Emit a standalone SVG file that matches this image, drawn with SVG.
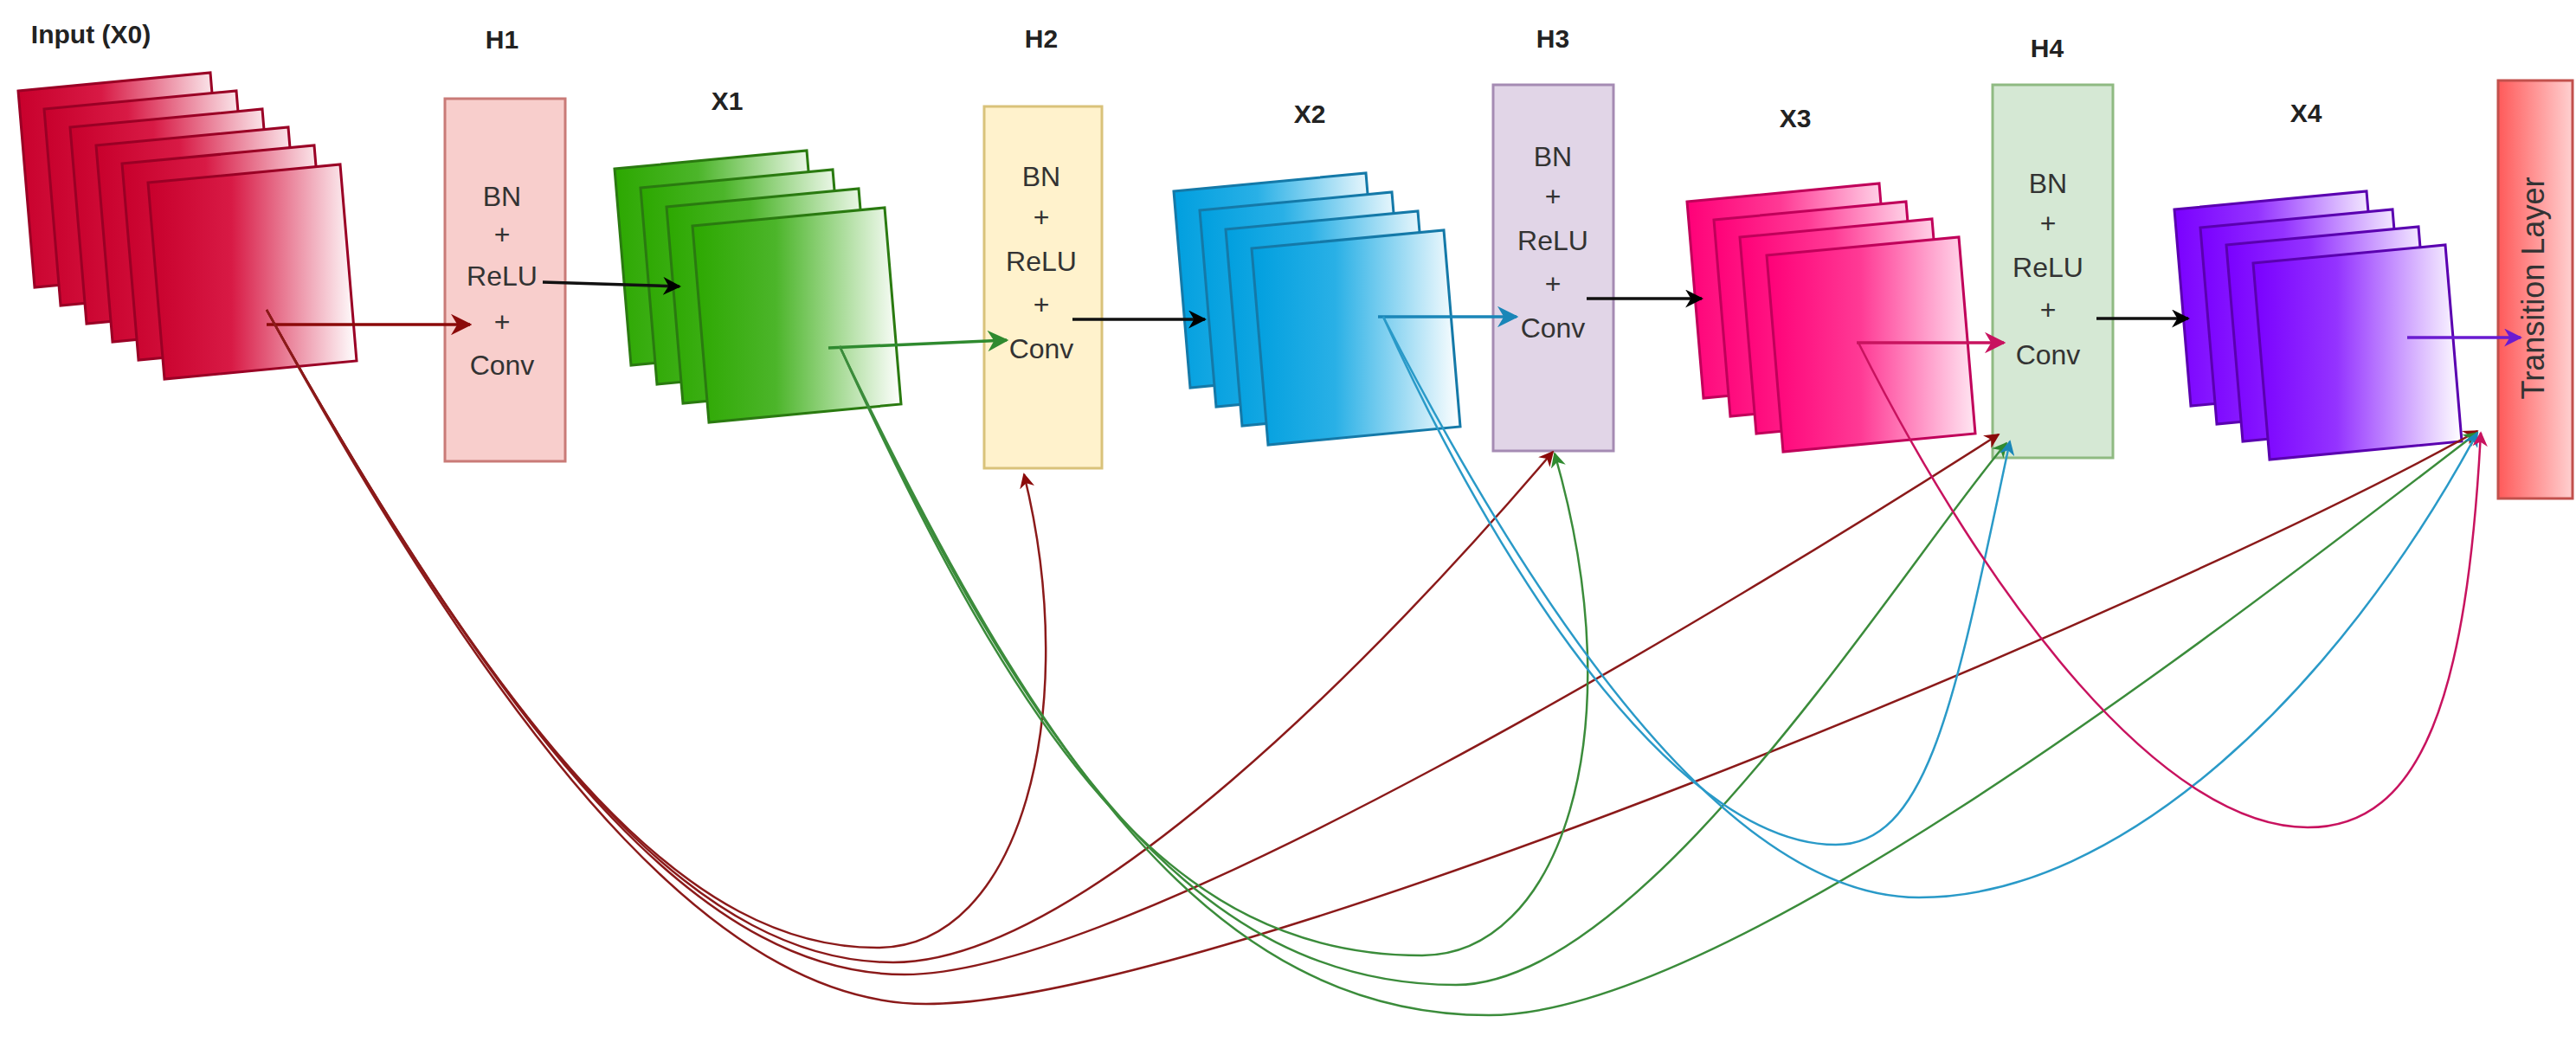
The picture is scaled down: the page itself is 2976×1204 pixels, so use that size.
<svg xmlns="http://www.w3.org/2000/svg" width="2976" height="1204" viewBox="0 0 2976 1204">
<style>
.lbl{font-family:"Liberation Sans",Arial,sans-serif;font-weight:bold;font-size:30px;fill:#222;text-anchor:middle}
.bt{font-family:"Liberation Sans",Arial,sans-serif;font-size:32px;fill:#333;text-anchor:middle}
.c{fill:none;stroke-width:2.5}
.a{fill:none;stroke-width:3.5}
</style>
<defs>
<linearGradient id="gR" x1="0" y1="0" x2="1" y2="0"><stop offset="0" stop-color="#c8002c"/><stop offset="0.4" stop-color="#d81a45"/><stop offset="1" stop-color="#ffffff"/></linearGradient>
<linearGradient id="gG" x1="0" y1="0" x2="1" y2="0"><stop offset="0" stop-color="#2ca800"/><stop offset="0.4" stop-color="#4cb52a"/><stop offset="1" stop-color="#ffffff"/></linearGradient>
<linearGradient id="gB" x1="0" y1="0" x2="1" y2="0"><stop offset="0" stop-color="#009fdf"/><stop offset="0.4" stop-color="#29b0e6"/><stop offset="1" stop-color="#ffffff"/></linearGradient>
<linearGradient id="gP" x1="0" y1="0" x2="1" y2="0"><stop offset="0" stop-color="#ff0078"/><stop offset="0.45" stop-color="#ff3a95"/><stop offset="1" stop-color="#ffe6f2"/></linearGradient>
<linearGradient id="gV" x1="0" y1="0" x2="1" y2="0"><stop offset="0" stop-color="#7a00ff"/><stop offset="0.4" stop-color="#9433ff"/><stop offset="1" stop-color="#ffffff"/></linearGradient>
<linearGradient id="gT" x1="0" y1="0" x2="1" y2="0"><stop offset="0" stop-color="#ff5a5a"/><stop offset="1" stop-color="#ffd0d0"/></linearGradient>
<polygon id="sh" points="0,0 222,-21 241,206 19,227"/>
<marker id="mK" viewBox="0 0 10 10" refX="9" refY="5" markerWidth="6" markerHeight="6" orient="auto"><path d="M0,0 L10,5 L0,10 L3,5 Z" fill="#000"/></marker>
<marker id="mR" viewBox="0 0 10 10" refX="9" refY="5" markerWidth="7" markerHeight="7" orient="auto"><path d="M0,0 L10,5 L0,10 L3,5 Z" fill="#8b0a0a"/></marker>
<marker id="mG" viewBox="0 0 10 10" refX="9" refY="5" markerWidth="7" markerHeight="7" orient="auto"><path d="M0,0 L10,5 L0,10 L3,5 Z" fill="#2f8a2f"/></marker>
<marker id="mB" viewBox="0 0 10 10" refX="9" refY="5" markerWidth="7" markerHeight="7" orient="auto"><path d="M0,0 L10,5 L0,10 L3,5 Z" fill="#1a86b8"/></marker>
<marker id="mP" viewBox="0 0 10 10" refX="9" refY="5" markerWidth="7" markerHeight="7" orient="auto"><path d="M0,0 L10,5 L0,10 L3,5 Z" fill="#c8135f"/></marker>
<marker id="mV" viewBox="0 0 10 10" refX="9" refY="5" markerWidth="6" markerHeight="6" orient="auto"><path d="M0,0 L10,5 L0,10 L3,5 Z" fill="#6a1bd1"/></marker>
</defs>
<rect width="2976" height="1204" fill="#fff"/>

<g id="X0">
<text class="lbl" x="105" y="50">Input (X0)</text>
<g fill="url(#gR)" stroke="#9a0025" stroke-width="3">
<use href="#sh" x="21" y="105"/><use href="#sh" x="51" y="126"/><use href="#sh" x="81" y="147"/><use href="#sh" x="111" y="168"/><use href="#sh" x="141" y="189"/><use href="#sh" x="171" y="211"/>
</g></g>

<g id="H1">
<text class="lbl" x="580" y="56">H1</text>
<rect x="514" y="114" width="139" height="419" fill="#f8cecc" stroke="#c97a77" stroke-width="3"/>
<text class="bt" x="580" y="238">BN</text><text class="bt" x="580" y="282">+</text><text class="bt" x="580" y="330">ReLU</text><text class="bt" x="580" y="383">+</text><text class="bt" x="580" y="433">Conv</text>
</g>

<g id="X1">
<text class="lbl" x="840" y="127">X1</text>
<g fill="url(#gG)" stroke="#2a7a10" stroke-width="3">
<use href="#sh" x="710" y="195"/><use href="#sh" x="740" y="217"/><use href="#sh" x="770" y="239"/><use href="#sh" x="800" y="261"/>
</g></g>

<g id="H2">
<text class="lbl" x="1203" y="55">H2</text>
<rect x="1137" y="123" width="136" height="418" fill="#fff2cc" stroke="#d9c27a" stroke-width="3"/>
<text class="bt" x="1203" y="215">BN</text><text class="bt" x="1203" y="262">+</text><text class="bt" x="1203" y="313">ReLU</text><text class="bt" x="1203" y="363">+</text><text class="bt" x="1203" y="414">Conv</text>
</g>

<g id="X2">
<text class="lbl" x="1513" y="142">X2</text>
<g fill="url(#gB)" stroke="#1479a8" stroke-width="3">
<use href="#sh" x="1356" y="221"/><use href="#sh" x="1386" y="243"/><use href="#sh" x="1416" y="265"/><use href="#sh" x="1446" y="287"/>
</g></g>

<g id="H3">
<text class="lbl" x="1794" y="55">H3</text>
<rect x="1725" y="98" width="139" height="423" fill="#e1d5e7" stroke="#a58bb3" stroke-width="3"/>
<text class="bt" x="1794" y="192">BN</text><text class="bt" x="1794" y="238">+</text><text class="bt" x="1794" y="289">ReLU</text><text class="bt" x="1794" y="339">+</text><text class="bt" x="1794" y="390">Conv</text>
</g>

<g id="X3">
<text class="lbl" x="2074" y="147">X3</text>
<g fill="url(#gP)" stroke="#c0005a" stroke-width="3">
<use href="#sh" x="1949" y="233"/><use href="#sh" x="1980" y="254"/><use href="#sh" x="2010" y="274"/><use href="#sh" x="2041" y="295"/>
</g></g>

<g id="H4">
<text class="lbl" x="2365" y="66">H4</text>
<rect x="2302" y="98" width="139" height="431" fill="#d5e8d4" stroke="#8fba82" stroke-width="3"/>
<text class="bt" x="2366" y="223">BN</text><text class="bt" x="2366" y="269">+</text><text class="bt" x="2366" y="320">ReLU</text><text class="bt" x="2366" y="369">+</text><text class="bt" x="2366" y="421">Conv</text>
</g>

<g id="X4">
<text class="lbl" x="2664" y="141">X4</text>
<g fill="url(#gV)" stroke="#5a00b0" stroke-width="3">
<use href="#sh" x="2512" y="242"/><use href="#sh" x="2542" y="263"/><use href="#sh" x="2572" y="283"/><use href="#sh" x="2603" y="304"/>
</g></g>

<g id="T">
<rect x="2886" y="93" width="86" height="483" fill="url(#gT)" stroke="#c2504c" stroke-width="3"/>
<text class="bt" x="0" y="0" transform="translate(2939,333) rotate(-90)" style="font-size:36px">Transition Layer</text>
</g>

<g id="connectors">
<line class="a" x1="308" y1="375" x2="543" y2="375" stroke="#8b0a0a" marker-end="url(#mR)"/>
<line class="a" x1="627" y1="326" x2="785" y2="331" stroke="#111" marker-end="url(#mK)"/>
<line class="a" x1="957" y1="402" x2="1163" y2="393" stroke="#2f8a2f" marker-end="url(#mG)"/>
<line class="a" x1="1239" y1="369" x2="1392" y2="369" stroke="#111" marker-end="url(#mK)"/>
<path class="a" d="M1592 366 L1752 366" stroke="#1a86b8" marker-end="url(#mB)"/>
<line class="a" x1="1833" y1="345" x2="1966" y2="345" stroke="#111" marker-end="url(#mK)"/>
<line class="a" x1="2145" y1="396" x2="2315" y2="396" stroke="#c8135f" marker-end="url(#mP)"/>
<line class="a" x1="2422" y1="368" x2="2528" y2="368" stroke="#111" marker-end="url(#mK)"/>
<line class="a" x1="2781" y1="390" x2="2912" y2="390" stroke="#6a1bd1" marker-end="url(#mV)"/>

<g stroke="#8b1a1a">
<path class="c" d="M308 358 C600 880 800 1095 1013 1095 C1180 1095 1250 820 1183 548" marker-end="url(#mR)"/>
<path class="c" d="M308 358 C605 890 815 1112 1032 1112 C1250 1112 1600 750 1794 522" marker-end="url(#mR)"/>
<path class="c" d="M308 358 C610 900 825 1126 1045 1126 C1300 1126 2000 700 2309 502" marker-end="url(#mR)"/>
<path class="c" d="M308 358 C615 920 850 1160 1070 1160 C1400 1160 2500 700 2862 498" marker-end="url(#mR)"/>
</g>
<g stroke="#3b8c3b">
<path class="c" d="M970 400 C1180 860 1350 1104 1643 1104 C1800 1104 1890 850 1796 524" marker-end="url(#mG)"/>
<path class="c" d="M970 400 C1190 870 1380 1138 1682 1138 C1900 1138 2200 650 2318 512" marker-end="url(#mG)"/>
<path class="c" d="M970 400 C1200 880 1400 1173 1720 1173 C2000 1173 2600 700 2862 500" marker-end="url(#mG)"/>
</g>
<g stroke="#2a9ac8">
<path class="c" d="M1598 366 C1750 700 1950 976 2121 976 C2230 976 2260 800 2322 510" marker-end="url(#mB)"/>
<path class="c" d="M1598 366 C1780 720 2000 1037 2217 1037 C2450 1037 2700 800 2862 500" marker-end="url(#mB)"/>
</g>
<path class="c" stroke="#c8135f" d="M2147 396 C2300 700 2500 956 2666 956 C2800 956 2850 800 2866 500" marker-end="url(#mP)"/>
</g>
</svg>
